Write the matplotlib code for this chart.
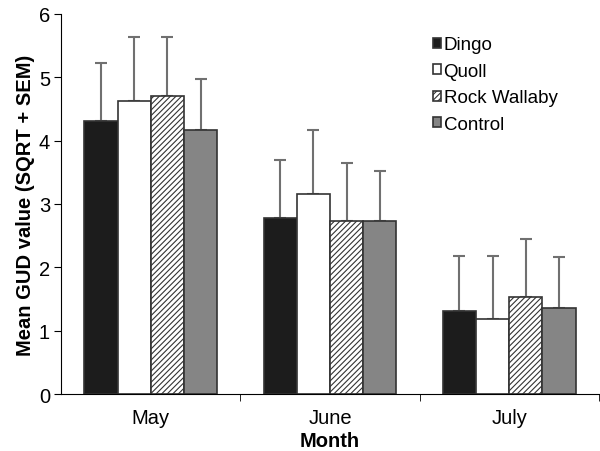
import numpy as np
import matplotlib.pyplot as plt

months = ['May', 'June', 'July']
groups = ['Dingo', 'Quoll', 'Rock Wallaby', 'Control']
means = {
    'Dingo': [4.31, 2.78, 1.31],
    'Quoll': [4.63, 3.16, 1.18],
    'Rock Wallaby': [4.71, 2.73, 1.53],
    'Control': [4.17, 2.73, 1.36],
}
sem = {
    'Dingo': [0.92, 0.92, 0.87],
    'Quoll': [1.01, 1.01, 1.00],
    'Rock Wallaby': [0.93, 0.92, 0.92],
    'Control': [0.81, 0.79, 0.80],
}
fills = {'Dingo': '#1c1c1c', 'Quoll': 'white', 'Rock Wallaby': 'white', 'Control': '#858585'}
hatches = {'Dingo': None, 'Quoll': None, 'Rock Wallaby': '//////', 'Control': None}

plt.rcParams['font.family'] = ['Liberation Sans', 'DejaVu Sans']
plt.rcParams['hatch.linewidth'] = 0.8

fig = plt.figure(figsize=(6, 4.52), dpi=100)
ax = fig.add_axes([0.102, 0.126, 0.896, 0.841])

x = np.arange(len(months))
w = 0.185
for i, g in enumerate(groups):
    pos = x + (i - 1.5) * w
    ax.bar(pos, means[g], w, color=fills[g], edgecolor='#333333', linewidth=1.2,
           hatch=hatches[g], label=g, zorder=2)
    ax.errorbar(pos, means[g], yerr=[np.zeros(3), sem[g]], fmt='none',
                ecolor='#707070', elinewidth=1.5, capsize=4, capthick=1.5, zorder=1)

fs = 14.5
ax.set_xlim(-0.5, 2.5)
ax.set_ylim(0, 6)
ax.set_yticks(range(7))
ax.set_xticks(x)
ax.set_xticklabels(months)
ax.set_xticks([0.5, 1.5, 2.5], minor=True)
ax.tick_params(axis='x', which='major', length=0, labelsize=fs, pad=10)
ax.tick_params(axis='x', which='minor', length=5)
ax.tick_params(axis='y', labelsize=fs, length=5, pad=3)
ax.spines['top'].set_visible(False)
ax.spines['right'].set_visible(False)
ax.set_xlabel('Month', fontsize=fs, fontweight='bold', labelpad=3)
ax.set_ylabel('Mean GUD value (SQRT + SEM)', fontsize=fs, fontweight='bold', labelpad=3)

ax.legend(loc='upper left', bbox_to_anchor=(0.66, 0.985), frameon=False, fontsize=13.5,
          handlelength=0.45, handleheight=0.45, handletextpad=0.12, labelspacing=0.5)

fig.savefig('out.png', dpi=100)
